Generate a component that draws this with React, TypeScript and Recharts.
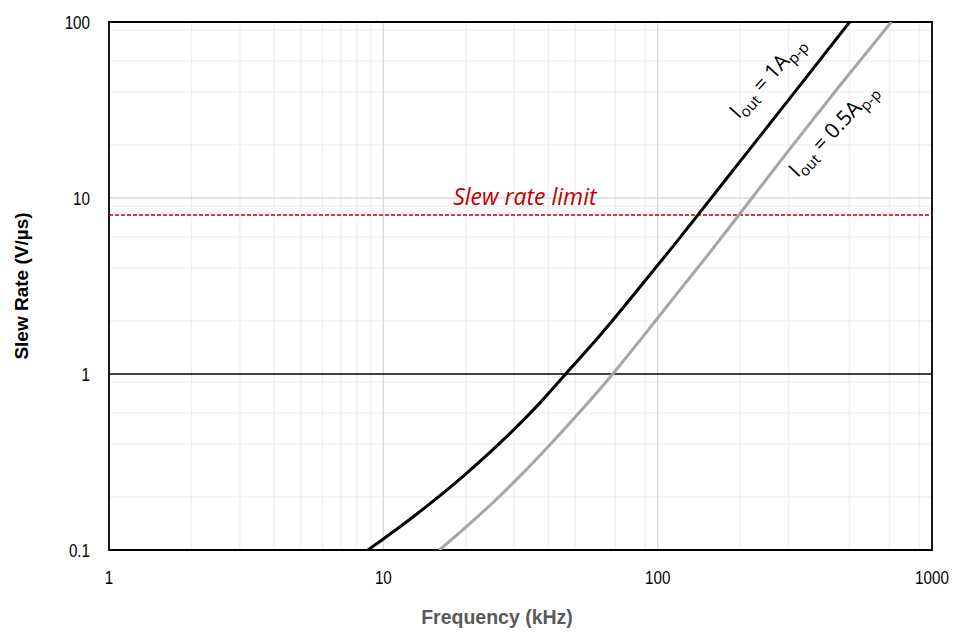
import { ComposedChart, Line, XAxis, YAxis, CartesianGrid, ReferenceLine, ReferenceArea, ReferenceDot } from 'recharts';

// Iout = 1 App
const freq1A = [8.78, 10, 13.1, 19.9, 29.9, 37.9, 46.2, 60, 91.5, 120, 140, 217, 320, 501];
const slew1A = [0.1, 0.1154, 0.158, 0.269, 0.483, 0.706, 1.0, 1.58, 3.5, 5.9, 8.0, 19.0, 41, 100];

// Iout = 0.5 App
const freqHalfA = [16.0, 20, 25, 32, 40.1, 53.1, 68.6, 90, 119, 150, 197, 295, 450, 711];
const slewHalfA = [0.1, 0.135, 0.185, 0.27, 0.39, 0.63, 1.0, 1.69, 2.93, 4.6, 7.95, 18.0, 41.5, 100];

const slewLimit = 8;

const xTicks = [1, 10, 100, 1000];
const yTicks = [0.1, 1, 10, 100];
const xMinor = [2, 3, 4, 5, 6, 7, 8, 9, 20, 30, 40, 50, 60, 70, 80, 90, 200, 300, 400, 500, 600, 700, 800, 900];
const yMinor = [0.2, 0.3, 0.4, 0.5, 0.6, 0.7, 0.8, 0.9, 2, 3, 4, 5, 6, 7, 8, 9, 20, 30, 40, 50, 60, 70, 80, 90];
const xMajor = [10, 100];
const yMajor = [10];

const data1A = freq1A.map((f, i) => ({ f, sr: slew1A[i] }));
const dataHalfA = freqHalfA.map((f, i) => ({ f, sr: slewHalfA[i] }));

const tickFont = '"Liberation Sans", Arial, sans-serif';
const noteFont = '"Open Sans", "DejaVu Sans", sans-serif';

// narrow-looking tick labels (Arial Narrow style)
const XTick = ({ x, y, payload }: any) => (
  <text transform={`translate(${x},${y}) scale(0.8,1)`} textAnchor="middle" dy="0.71em" fontFamily={tickFont} fontSize={19} fill="#000">
    {payload.value}
  </text>
);
const YTick = ({ x, y, payload }: any) => (
  <text transform={`translate(${x},${y}) scale(0.8,1)`} textAnchor="end" dy="0.355em" fontFamily={tickFont} fontSize={19} fill="#000">
    {payload.value}
  </text>
);

const RotLabel = ({ cx, cy, main, angle }: any) => (
  <text
    x={cx}
    y={cy}
    transform={`rotate(${angle} ${cx} ${cy})`}
    textAnchor="middle"
    fontFamily={noteFont}
    fontSize={21}
    fill="#000"
  >
    I<tspan fontSize={15} dy={5}>out</tspan>
    <tspan dy={-5}>{` = ${main}A`}</tspan>
    <tspan fontSize={15} dy={5}>p-p</tspan>
  </text>
);

export default function App() {
  return (
    <div style={{ position: 'absolute', left: 0, top: 0, background: '#fff' }}>
      <ComposedChart width={957} height={633} margin={{ top: 22, right: 25, bottom: 0, left: 0 }}>
        <CartesianGrid
          verticalValues={xMinor}
          horizontalValues={yMinor}
          stroke="#f0f0f0"
          strokeWidth={1.3}
        />
        <CartesianGrid
          verticalValues={xMajor}
          horizontalValues={yMajor}
          stroke="#d9d9d9"
          strokeWidth={1.3}
        />
        <XAxis
          type="number"
          dataKey="f"
          scale="log"
          domain={[1, 1000]}
          ticks={xTicks}
          allowDataOverflow
          axisLine={false}
          tickLine={false}
          tickSize={0}
          tickMargin={21}
          height={83}
          tick={<XTick />}
          label={{
            content: () => (
              <text x={497} y={624} textAnchor="middle" fontFamily={tickFont} fontWeight="bold" fontSize={19.5} fill="#595959">
                Frequency (kHz)
              </text>
            ),
          }}
        />
        <YAxis
          type="number"
          dataKey="sr"
          scale="log"
          domain={[0.1, 100]}
          ticks={yTicks}
          allowDataOverflow
          axisLine={false}
          tickLine={false}
          tickSize={0}
          tickMargin={19}
          width={109}
          tick={<YTick />}
          label={{
            content: () => (
              <text x={28} y={286} transform="rotate(-90 28 286)" textAnchor="middle" fontFamily={tickFont} fontWeight="bold" fontSize={19} fill="#000">
                Slew Rate (V/µs)
              </text>
            ),
          }}
        />
        <ReferenceLine y={1} stroke="#000" strokeWidth={1.5} />
        <ReferenceLine y={slewLimit} stroke="#c00000" strokeWidth={1.5} strokeDasharray="4 2" />
        <Line
          data={dataHalfA}
          dataKey="sr"
          type="monotone"
          stroke="#a6a6a6"
          strokeWidth={3}
          dot={false}
          isAnimationActive={false}
        />
        <Line
          data={data1A}
          dataKey="sr"
          type="monotone"
          stroke="#000"
          strokeWidth={3}
          dot={false}
          isAnimationActive={false}
        />
        <ReferenceArea x1={1} x2={1000} y1={0.1} y2={100} fill="none" stroke="#000" strokeWidth={1.8} fillOpacity={0} />
        <ReferenceDot
          x={32.8}
          y={10}
          r={0}
          shape={(p: any) => (
            <text x={p.cx} y={p.cy + 7} textAnchor="middle" fontFamily={noteFont} fontStyle="italic" fontSize={23} fill="#c00000">
              Slew rate limit
            </text>
          )}
        />
        <ReferenceDot x={262} y={45.6} r={0} shape={(p: any) => <RotLabel cx={p.cx} cy={p.cy} main="1" angle={-48} />} />
        <ReferenceDot x={455} y={22.8} r={0} shape={(p: any) => <RotLabel cx={p.cx} cy={p.cy} main="0.5" angle={-47} />} />
      </ComposedChart>
    </div>
  );
}
